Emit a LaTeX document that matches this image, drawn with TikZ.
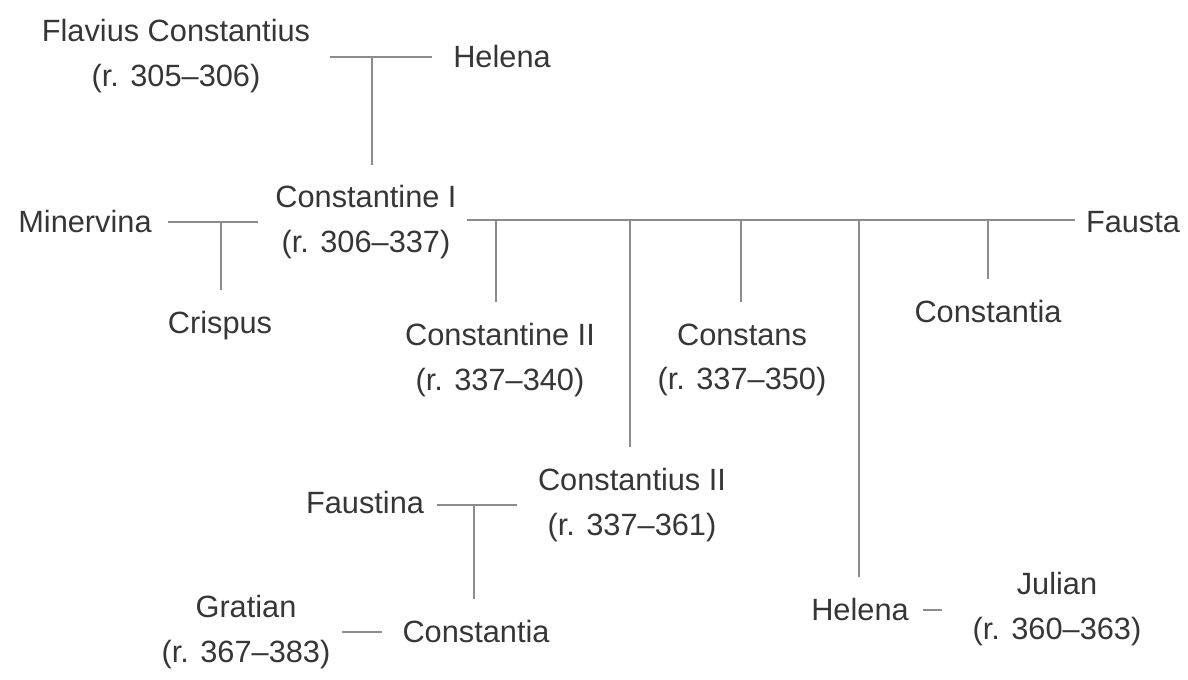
\documentclass[tikz,border=0pt]{standalone}
\usepackage{fontspec}
\setmainfont{Liberation Sans}
\definecolor{txt}{HTML}{363636}
\definecolor{ln}{HTML}{8C8C8C}
\begin{document}
\begin{tikzpicture}[x=0.02cm,y=-0.02cm,
  person/.style={text=txt,align=center,inner sep=0pt,font=\fontsize{17.5}{25.5}\selectfont},
  link/.style={draw=ln,line width=1.3pt}]
\useasboundingbox (0,0) rectangle (1188,680);
% people
\node[person] (fc) at (176,56) {Flavius Constantius\\(r. 305–306)};
\node[person] (hel) at (502,57) {Helena};
\node[person] (c1) at (366,222) {Constantine I\\(r. 306–337)};
\node[person] (min) at (85,222) {Minervina};
\node[person] (cri) at (220,326) {Crispus};
\node[person] (fau) at (1133,222) {Fausta};
\node[person] (c2) at (500,360) {Constantine II\\(r. 337–340)};
\node[person] (cs) at (742,360) {Constans\\(r. 337–350)};
\node[person] (cta) at (988,312) {Constantia};
\node[person] (ci2) at (632,505) {Constantius II\\(r. 337–361)};
\node[person] (fst) at (365,503) {Faustina};
\node[person] (gra) at (246,632) {Gratian\\(r. 367–383)};
\node[person] (ctb) at (476,632) {Constantia};
\node[person] (heb) at (860,610) {Helena};
\node[person] (jul) at (1057,609) {Julian\\(r. 360–363)};
% junction coordinates
\coordinate (fcR) at (330,57);
\coordinate (helL) at (432,57);
\coordinate (j1) at (372,57);
\coordinate (c1T) at (372,165);
\coordinate (minR) at (168,222);
\coordinate (c1L) at (258,222);
\coordinate (j2) at (221,222);
\coordinate (c1R) at (467,220);
\coordinate (fauL) at (1075,220);
\coordinate (ja) at (496,220);
\coordinate (jb) at (630,220);
\coordinate (jc) at (741,220);
\coordinate (jd) at (859,220);
\coordinate (je) at (988,220);
\coordinate (fstR) at (437,505);
\coordinate (ci2L) at (517,505);
\coordinate (jf) at (474,505);
\coordinate (graR) at (342,632);
\coordinate (ctbL) at (382,632);
\coordinate (hebR) at (923,610);
\coordinate (julL) at (942,610);
% connectors
\draw[link] (fcR) -- (helL);
\draw[link] (j1) -- (c1T);
\draw[link] (minR) -- (c1L);
\draw[link] (j2) -- ([yshift=12pt]cri.north -| j2);
\draw[link] (c1R) -- (fauL);
\draw[link] (ja) -- ([yshift=12pt]c2.north -| ja);
\draw[link] (jb) -- ([yshift=12pt]ci2.north -| jb);
\draw[link] (jc) -- ([yshift=12pt]cs.north -| jc);
\draw[link] (jd) -- ([yshift=12pt]heb.north -| jd);
\draw[link] (je) -- ([yshift=12pt]cta.north -| je);
\draw[link] (fstR) -- (ci2L);
\draw[link] (jf) -- ([yshift=12pt]ctb.north -| jf);
\draw[link] (graR) -- (ctbL);
\draw[link] (hebR) -- (julL);
\end{tikzpicture}
\end{document}
